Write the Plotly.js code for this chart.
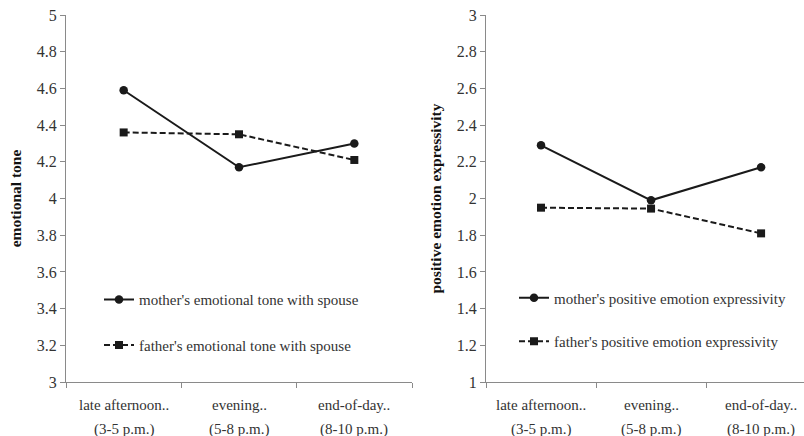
<!DOCTYPE html>
<html>
<head>
<meta charset="utf-8">
<script src="https://cdn.plot.ly/plotly-3.0.1.min.js"></script>
<style>html,body{margin:0;padding:0;background:#fff;}#chart{width:804px;height:436px;}</style>
</head>
<body>
<div id="chart"></div>
<script>
// ---- data ----
const categories = ['late afternoon..', 'evening..', 'end-of-day..'];
const timeRanges = ['(3-5 p.m.)', '(5-8 p.m.)', '(8-10 p.m.)'];
const catIndex = [0, 1, 2];
const motherTone = [4.59, 4.17, 4.30];
const fatherTone = [4.36, 4.35, 4.21];
const motherPositive = [2.29, 1.99, 2.17];
const fatherPositive = [1.95, 1.945, 1.81];
const leftTicks = [3, 3.2, 3.4, 3.6, 3.8, 4, 4.2, 4.4, 4.6, 4.8, 5];
const leftTickText = ['3', '3.2', '3.4', '3.6', '3.8', '4', '4.2', '4.4', '4.6', '4.8', '5'];
const rightTicks = [1, 1.2, 1.4, 1.6, 1.8, 2, 2.2, 2.4, 2.6, 2.8, 3];
const rightTickText = ['1', '1.2', '1.4', '1.6', '1.8', '2', '2.2', '2.4', '2.6', '2.8', '3'];
const boundaryTicks = [-0.5, 0.5, 1.5, 2.5];

const FONT = 'Liberation Serif';
const INK = '#1a1a1a';
const AXIS = '#8a8a8a';

function series(name, y, xa, ya, dashed, legend) {
  return {
    x: catIndex, y: y, xaxis: xa, yaxis: ya, name: name,
    type: 'scatter', mode: 'lines+markers',
    line: {color: INK, width: 2, dash: dashed ? '6px,3px' : 'solid'},
    marker: {color: INK, size: dashed ? 8 : 8.5, symbol: dashed ? 'square' : 'circle'},
    legend: legend, legendgroup: name
  };
}

const data = [
  series("mother's emotional tone with spouse", motherTone, 'x', 'y', false, 'legend'),
  series("father's emotional tone with spouse", fatherTone, 'x', 'y', true, 'legend'),
  series("mother's positive emotion expressivity", motherPositive, 'x2', 'y2', false, 'legend2'),
  series("father's positive emotion expressivity", fatherPositive, 'x2', 'y2', true, 'legend2')
];

function xaxis(domain, range) {
  return {
    domain: domain, range: range, showgrid: false, zeroline: false,
    showline: true, linecolor: AXIS, linewidth: 1,
    tickmode: 'array', tickvals: boundaryTicks, showticklabels: false,
    ticks: 'outside', ticklen: 5, tickcolor: AXIS
  };
}
function yaxis(anchor, ticks, text, title) {
  return {
    anchor: anchor, range: [ticks[0], ticks[ticks.length - 1]],
    showgrid: false, zeroline: false, showline: true, linecolor: AXIS, linewidth: 1,
    tickmode: 'array', tickvals: ticks, ticktext: text,
    ticks: 'outside', ticklen: 5, tickcolor: AXIS,
    tickfont: {family: FONT, size: 16, color: '#333'},
    title: {text: title, font: {family: FONT, size: 15.5, color: '#111', weight: 'bold'}, standoff: 11}
  };
}

const annotations = [];
catIndex.forEach(function (c, i) {
  ['x', 'x2'].forEach(function (xr) {
    annotations.push({x: c, xref: xr, y: -0.0635, yref: 'paper', text: categories[i], showarrow: false,
      xanchor: 'center', yanchor: 'middle', font: {family: FONT, size: 15, color: '#333'}});
    annotations.push({x: c, xref: xr, y: -0.13, yref: 'paper', text: timeRanges[i], showarrow: false,
      xanchor: 'center', yanchor: 'middle', font: {family: FONT, size: 15, color: '#333'}});
  });
});

const legendBase = {
  bgcolor: 'rgba(0,0,0,0)', borderwidth: 0, traceorder: 'grouped',
  font: {family: FONT, size: 15, color: '#333'}, itemwidth: 30,
  xanchor: 'left', yanchor: 'top'
};

const layout = {
  width: 804, height: 436,
  margin: {l: 0, r: 0, t: 15, b: 54, pad: 0},
  paper_bgcolor: '#fff', plot_bgcolor: '#fff',
  showlegend: true,
  xaxis: xaxis([66 / 804, 412 / 804], [-0.5, 2.5]),
  yaxis: yaxis('x', leftTicks, leftTickText, 'emotional tone'),
  xaxis2: xaxis([486 / 804, 1], [-0.5, 2.39]),
  yaxis2: yaxis('x2', rightTicks, rightTickText, 'positive emotion expressivity'),
  legend: Object.assign({}, legendBase, {x: 99 / 804, y: 0.269, tracegroupgap: 23}),
  legend2: Object.assign({}, legendBase, {x: 514 / 804, y: 0.274, tracegroupgap: 21}),
  annotations: annotations
};
layout.yaxis2.anchor = 'x2';
layout.xaxis2.anchor = 'y2';

Plotly.newPlot('chart', data, layout, {staticPlot: true, displayModeBar: false});
</script>
</body>
</html>
